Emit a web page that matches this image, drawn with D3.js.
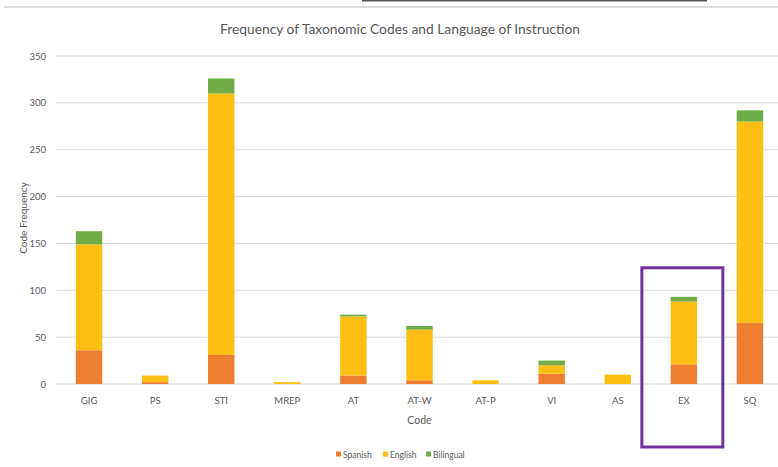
<!DOCTYPE html>
<html><head><meta charset="utf-8">
<script src="https://cdn.jsdelivr.net/npm/d3@7"></script>
<style>body{margin:0;background:#fff;}svg{display:block;}</style>
</head><body>
<svg id="c" width="778" height="467"></svg>
<script>
const categories = ["GIG","PS","STI","MREP","AT","AT-W","AT-P","VI","AS","EX","SQ"];
const spanish   = [36, 2, 31, 0, 9, 4, 0, 11, 0, 21, 65];
const english   = [113, 7, 279, 2, 63, 54, 4, 9, 10, 67, 215];
const bilingual = [14, 0, 16, 0, 2, 4, 0, 5, 0, 5, 12];
const seriesNames = ["Spanish","English","Bilingual"];
const seriesColors = ["#ED7D31","#FDBF14","#70AD47"];
const yTicks = [0,50,100,150,200,250,300,350];
const highlight = "EX";

const svg = d3.select("#c");
const font = "Lato, 'Open Sans', sans-serif";

// page decorations (screenshot artefacts)
svg.append("rect").attr("x",4).attr("y",6).attr("width",774).attr("height",2).attr("fill","#dcdcdc");
svg.append("rect").attr("x",362).attr("y",0).attr("width",345).attr("height",1.5).attr("fill","#555");

const x = d3.scaleBand().domain(categories).range([56,783]).paddingInner(0.6).paddingOuter(0.3);
const y = d3.scaleLinear().domain([0,350]).range([384,56]);

// grid
svg.append("g").selectAll("line").data(yTicks).join("line")
  .attr("x1",56).attr("x2",783).attr("y1",d=>y(d)).attr("y2",d=>y(d))
  .attr("stroke","#d9d9d9").attr("stroke-width",1);

// y labels
const yAxis = d3.axisLeft(y).tickValues(yTicks).tickSize(0).tickPadding(10);
const ga = svg.append("g").attr("transform","translate(56,0)").call(yAxis);
ga.select(".domain").remove();
ga.selectAll("text").attr("font-family",font).attr("font-size",9.5).attr("fill","#595959");

// stacked data
const rows = categories.map((c,i)=>({cat:c, Spanish:spanish[i], English:english[i], Bilingual:bilingual[i]}));
const stack = d3.stack().keys(seriesNames)(rows);
svg.append("g").selectAll("g").data(stack).join("g")
  .attr("fill",(d,i)=>seriesColors[i])
  .selectAll("rect").data(d=>d).join("rect")
  .attr("x",d=>x(d.data.cat)).attr("width",x.bandwidth())
  .attr("y",d=>y(d[1])).attr("height",d=>y(d[0])-y(d[1]));

// x labels
const xAxis = d3.axisBottom(x).tickSize(0).tickPadding(13);
const gx = svg.append("g").attr("transform","translate(0,384)").call(xAxis);
gx.select(".domain").remove();
gx.selectAll("text").attr("font-family",font).attr("font-size",9.5).attr("fill","#595959");

// titles
svg.append("text").attr("x",400).attr("y",34).attr("text-anchor","middle")
  .attr("font-family",font).attr("font-size",13.8).attr("fill","#595959")
  .text("Frequency of Taxonomic Codes and Language of Instruction");
svg.append("text").attr("x",(56+783)/2).attr("y",424).attr("text-anchor","middle")
  .attr("font-family",font).attr("font-size",10.5).attr("fill","#595959").text("Code");
svg.append("text").attr("transform","translate(27,218) rotate(-90)").attr("text-anchor","middle")
  .attr("font-family",font).attr("font-size",10).attr("fill","#595959").text("Code Frequency");

// legend
const legX = [336,383,426];
const lg = svg.append("g").selectAll("g").data(seriesNames).join("g")
  .attr("transform",(d,i)=>`translate(${legX[i]},455)`);
lg.append("rect").attr("x",0).attr("y",-3.5).attr("width",5).attr("height",5).attr("fill",(d,i)=>seriesColors[i]);
lg.append("text").attr("x",7).attr("y",3).attr("font-family",font).attr("font-size",8.5).attr("fill","#595959").text(d=>d);

// highlight box
const cx = x(highlight) + x.bandwidth()/2;
svg.append("rect").attr("x",cx-42).attr("y",y(124)).attr("width",81).attr("height",447-y(124))
  .attr("fill","none").attr("stroke","#7030A0").attr("stroke-width",3);
</script>
</body></html>
